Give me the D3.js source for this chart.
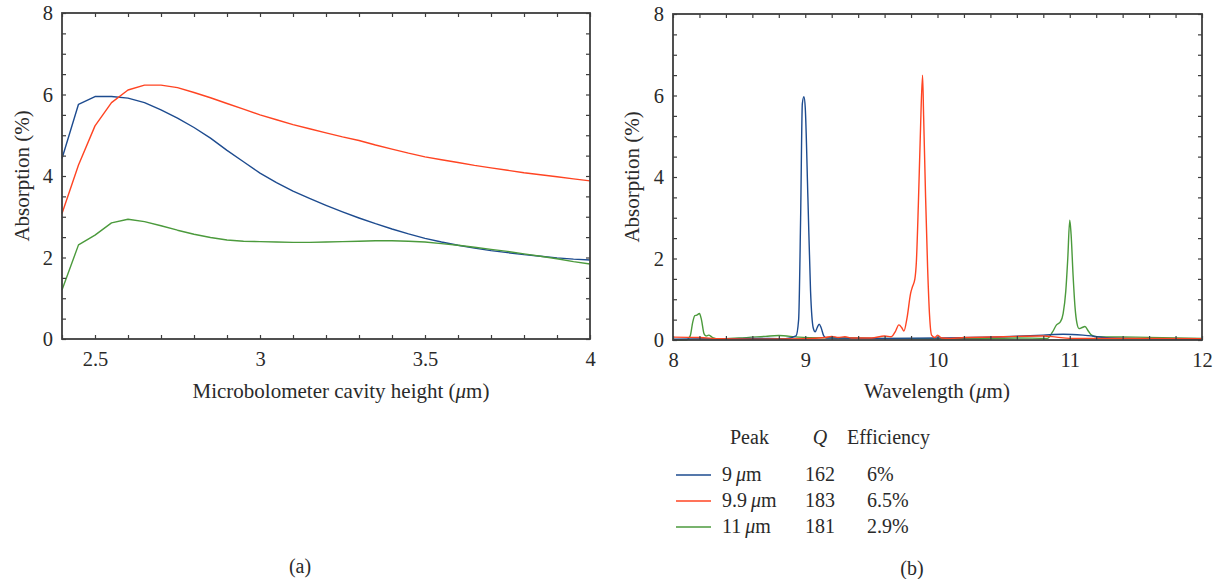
<!DOCTYPE html>
<html>
<head>
<meta charset="utf-8">
<script src="https://cdn.jsdelivr.net/npm/d3@7"></script>
<style>
  html, body { margin: 0; padding: 0; background: #fff; }
  svg { display: block; }
  text { font-family: "Liberation Serif", "Times New Roman", serif; fill: #2a2a2a; }
</style>
</head>
<body>
<svg id="chart" width="1219" height="579"></svg>
<script>
// ---------- Panel (a): absorption vs. cavity height (0.05 µm sweep) ----------
const cavityHeight = [2.40, 2.45, 2.50, 2.55, 2.60, 2.65, 2.70, 2.75, 2.80, 2.85, 2.90, 2.95, 3.00,
                      3.05, 3.10, 3.15, 3.20, 3.25, 3.30, 3.35, 3.40, 3.45, 3.50,
                      3.55, 3.60, 3.65, 3.70, 3.75, 3.80, 3.85, 3.90, 3.95, 4.00];
const absorb9um   = [4.43, 5.76, 5.95, 5.95, 5.91, 5.80, 5.62, 5.42, 5.19, 4.93, 4.63, 4.35, 4.07,
                     3.84, 3.63, 3.45, 3.28, 3.12, 2.97, 2.83, 2.70, 2.58, 2.47,
                     2.38, 2.30, 2.23, 2.17, 2.12, 2.07, 2.03, 1.99, 1.96, 1.94];
const absorb99um  = [3.08, 4.27, 5.23, 5.80, 6.11, 6.23, 6.23, 6.17, 6.05, 5.92, 5.78, 5.64, 5.50,
                     5.38, 5.26, 5.16, 5.06, 4.96, 4.87, 4.76, 4.66, 4.56, 4.47,
                     4.40, 4.33, 4.26, 4.20, 4.14, 4.08, 4.03, 3.98, 3.93, 3.88];
const absorb11um  = [1.20, 2.31, 2.55, 2.85, 2.94, 2.88, 2.78, 2.67, 2.57, 2.49, 2.43, 2.40, 2.39,
                     2.38, 2.37, 2.37, 2.38, 2.39, 2.40, 2.41, 2.41, 2.40, 2.38,
                     2.34, 2.30, 2.25, 2.20, 2.15, 2.09, 2.03, 1.97, 1.90, 1.84];

// ---------- Panel (b): absorption spectra ----------
const spec9Wl  = [8.00, 8.30, 8.60, 8.85, 8.93, 8.95, 8.965, 8.978, 8.99, 9.00, 9.02, 9.04, 9.06, 9.075,
                  9.09, 9.105, 9.12, 9.14, 9.16, 9.50, 10.00, 10.50, 10.80, 10.95, 11.10, 11.30, 11.60, 12.00];
const spec9Val = [0.02, 0.03, 0.04, 0.03, 0.10, 0.50, 3.00, 5.80, 5.97, 5.70, 3.50, 1.20, 0.30, 0.20,
                  0.30, 0.39, 0.30, 0.10, 0.05, 0.04, 0.05, 0.08, 0.12, 0.14, 0.12, 0.05, 0.03, 0.02];

const spec99Wl  = [8.00, 8.20, 8.35, 8.60, 9.00, 9.15, 9.20, 9.25, 9.30, 9.35, 9.50, 9.60, 9.65, 9.68,
                   9.708, 9.73, 9.746, 9.77, 9.797, 9.81, 9.829, 9.84, 9.855, 9.87, 9.887, 9.895, 9.91,
                   9.925, 9.94, 9.955, 9.98, 10.00, 10.03, 10.10, 10.20, 10.50, 10.80, 10.90, 11.00, 11.50, 12.00];
const spec99Val = [0.07, 0.06, 0.03, 0.02, 0.03, 0.06, 0.09, 0.06, 0.08, 0.05, 0.05, 0.10, 0.08, 0.20,
                   0.37, 0.30, 0.22, 0.55, 1.15, 1.30, 1.50, 1.90, 3.30, 5.00, 6.50, 5.50, 3.50,
                   1.80, 0.60, 0.12, 0.06, 0.12, 0.05, 0.04, 0.06, 0.08, 0.10, 0.07, 0.04, 0.04, 0.03];

const spec11Wl  = [8.00, 8.10, 8.13, 8.15, 8.165, 8.18, 8.20, 8.215, 8.235, 8.25, 8.27, 8.30, 8.35, 8.50,
                   8.70, 8.80, 8.95, 9.20, 9.50, 10.00, 10.30, 10.60, 10.83, 10.87, 10.90, 10.93, 10.95,
                   10.97, 10.985, 11.00, 11.01, 11.025, 11.04, 11.055, 11.07, 11.09, 11.115, 11.14, 11.165,
                   11.20, 11.50, 12.00];
const spec11Val = [0.00, 0.00, 0.10, 0.45, 0.60, 0.61, 0.65, 0.50, 0.15, 0.10, 0.12, 0.06, 0.03, 0.05,
                   0.09, 0.11, 0.07, 0.05, 0.04, 0.03, 0.03, 0.05, 0.04, 0.20, 0.37, 0.45, 0.65,
                   1.20, 2.00, 2.94, 2.60, 1.60, 0.80, 0.40, 0.28, 0.30, 0.33, 0.22, 0.12,
                   0.08, 0.07, 0.04];

// ---------- Legend table ----------
const legendPeakNum = ["9", "9.9", "11"];
const legendQ       = ["162", "183", "181"];
const legendEff     = ["6%", "6.5%", "2.9%"];

const seriesColors = ["#1d4b8f", "#ff4422", "#4b9a3c"];

// ---------- Axis ticks ----------
const yMajorTicks = [0, 2, 4, 6, 8];
const aMajorTicks = [2.5, 3, 3.5, 4];
const bMajorTicks = [8, 9, 10, 11, 12];

const svg = d3.select("#chart");
const axisColor = "#3d3d3d";
const tickFont = 20.5;
const titleFont = 21;
const legendFont = 20;

function framedAxes(g, x, y, xMajor, xMinorStep, yMinorStep) {
  const [x0, x1] = x.range();
  const [y0, y1] = y.range();
  const xd = x.domain(), yd = y.domain();
  const xMinor = d3.range(Math.round((xd[1] - xd[0]) / xMinorStep) + 1).map(i => xd[0] + i * xMinorStep);
  const yMinor = d3.range(Math.round((yd[1] - yd[0]) / yMinorStep) + 1).map(i => yd[0] + i * yMinorStep);

  const tickLen = 4;
  // inward ticks on all four sides
  g.append("g").attr("transform", `translate(0,${y0})`)
    .call(d3.axisBottom(x).tickValues(xMinor).tickSize(-tickLen).tickFormat(""));
  g.append("g").attr("transform", `translate(0,${y1})`)
    .call(d3.axisTop(x).tickValues(xMinor).tickSize(-tickLen).tickFormat(""));
  g.append("g").attr("transform", `translate(${x0},0)`)
    .call(d3.axisLeft(y).tickValues(yMinor).tickSize(-tickLen).tickFormat(""));
  g.append("g").attr("transform", `translate(${x1},0)`)
    .call(d3.axisRight(y).tickValues(yMinor).tickSize(-tickLen).tickFormat(""));

  // labelled major ticks
  const bx = g.append("g").attr("transform", `translate(0,${y0})`)
    .call(d3.axisBottom(x).tickValues(xMajor).tickSize(0).tickPadding(12).tickFormat(d3.format("~g")));
  const ly = g.append("g").attr("transform", `translate(${x0},0)`)
    .call(d3.axisLeft(y).tickValues(yMajorTicks).tickSize(0).tickPadding(9).tickFormat(d3.format("d")));
  [bx, ly].forEach(a => {
    a.selectAll("text").style("font-size", tickFont + "px").attr("fill", "#2a2a2a");
  });

  g.selectAll(".domain").remove();
  g.selectAll(".tick line").attr("stroke", axisColor).attr("stroke-width", 1.2);

  g.append("rect")
    .attr("x", x0).attr("y", y1).attr("width", x1 - x0).attr("height", y0 - y1)
    .attr("fill", "none").attr("stroke", axisColor).attr("stroke-width", 1.8);
}

function microUnitLabel(sel, prefix) {
  sel.append("tspan").text(prefix + "(");
  sel.append("tspan").attr("font-style", "italic").text("\u03bc");
  sel.append("tspan").text("m)");
}

// ===== Panel (a) =====
const xa = d3.scaleLinear().domain([2.4, 4]).range([62, 590]);
const ya = d3.scaleLinear().domain([0, 8]).range([339, 13]);
const ga = svg.append("g");

const lineA = d3.line().x(d => xa(d[0])).y(d => ya(d[1]));
[absorb9um, absorb99um, absorb11um].forEach((vals, i) => {
  ga.append("path")
    .datum(cavityHeight.map((h, j) => [h, vals[j]]))
    .attr("fill", "none").attr("stroke", seriesColors[i]).attr("stroke-width", 1.4)
    .attr("stroke-linejoin", "round")
    .attr("d", lineA);
});
framedAxes(ga, xa, ya, aMajorTicks, 0.1, 0.5);

microUnitLabel(
  ga.append("text").attr("x", 341).attr("y", 398)
    .attr("text-anchor", "middle").style("font-size", titleFont + "px"),
  "Microbolometer cavity height ");
ga.append("text")
  .attr("transform", `translate(29,${176}) rotate(-90)`)
  .attr("text-anchor", "middle").style("font-size", titleFont + "px")
  .text("Absorption (%)");
ga.append("text").attr("x", 300).attr("y", 573)
  .attr("text-anchor", "middle").style("font-size", legendFont + "px").text("(a)");

// ===== Panel (b) =====
const xb = d3.scaleLinear().domain([8, 12]).range([673, 1202]);
const yb = d3.scaleLinear().domain([0, 8]).range([340, 14]);
const gb = svg.append("g");

const lineB = d3.line().x(d => xb(d[0])).y(d => yb(d[1])).curve(d3.curveMonotoneX);
[[spec11Wl, spec11Val], [spec9Wl, spec9Val], [spec99Wl, spec99Val]].forEach(([wl, vals], k) => {
  const ci = [2, 0, 1][k];
  gb.append("path")
    .datum(wl.map((w, j) => [w, vals[j]]))
    .attr("fill", "none").attr("stroke", seriesColors[ci]).attr("stroke-width", 1.4)
    .attr("stroke-linejoin", "round")
    .attr("d", lineB);
});
framedAxes(gb, xb, yb, bMajorTicks, 0.2, 0.5);

microUnitLabel(
  gb.append("text").attr("x", 937).attr("y", 398)
    .attr("text-anchor", "middle").style("font-size", titleFont + "px"),
  "Wavelength ");
gb.append("text")
  .attr("transform", `translate(639,${177}) rotate(-90)`)
  .attr("text-anchor", "middle").style("font-size", titleFont + "px")
  .text("Absorption (%)");

// ===== Legend table =====
const lg = svg.append("g").style("font-size", legendFont + "px");
lg.append("text").attr("x", 730).attr("y", 444).text("Peak");
lg.append("text").attr("x", 820).attr("y", 444).attr("text-anchor", "middle")
  .attr("font-style", "italic").text("Q");
lg.append("text").attr("x", 847).attr("y", 444).text("Efficiency");

const rowY = [475, 501, 527];
legendPeakNum.forEach((p, i) => {
  lg.append("line")
    .attr("x1", 676).attr("x2", 711).attr("y1", rowY[i]).attr("y2", rowY[i])
    .attr("stroke", seriesColors[i]).attr("stroke-width", 1.6);
  const t = lg.append("text").attr("x", 722).attr("y", rowY[i] + 6);
  t.append("tspan").text(p + "\u2009");
  t.append("tspan").attr("font-style", "italic").text("\u03bc");
  t.append("tspan").text("m");
  lg.append("text").attr("x", 805).attr("y", rowY[i] + 6).text(legendQ[i]);
  lg.append("text").attr("x", 867).attr("y", rowY[i] + 6).text(legendEff[i]);
});
lg.append("text").attr("x", 912).attr("y", 575).attr("text-anchor", "middle").text("(b)");
</script>
</body>
</html>
